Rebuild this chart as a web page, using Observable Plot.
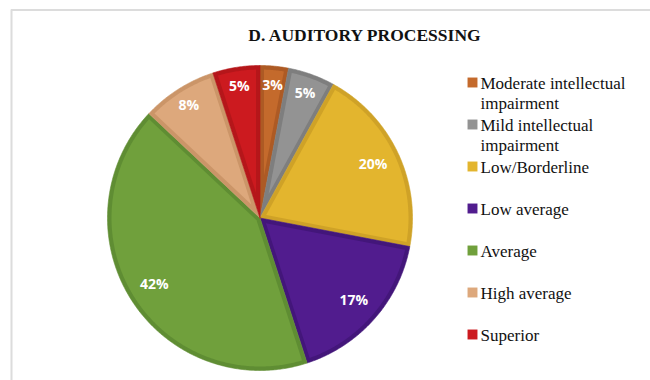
<!DOCTYPE html>
<html><head><meta charset="utf-8">
<script src="https://cdn.jsdelivr.net/npm/d3@7"></script>
<script src="https://cdn.jsdelivr.net/npm/@observablehq/plot@0.6"></script>
<style>body{margin:0;background:#fff}</style>
</head><body><div id="chart"></div>
<script>
const title = "D. AUDITORY PROCESSING";
const categories = ["Moderate intellectual impairment","Mild intellectual impairment","Low/Borderline","Low average","Average","High average","Superior"];
const legendLabels = ["Moderate intellectual\nimpairment","Mild intellectual\nimpairment","Low/Borderline","Low average","Average","High average","Superior"];
const values = [3,5,20,17,42,8,5];
const fills = ["#C46A2C","#939393","#E3B52E","#511C8E","#70A03C","#DDA87C","#CC1A1F"];
const borders = ["#AD5A24","#7E7E7E","#CFA227","#43167A","#5F8D33","#CB9568","#B5161A"];

const W = 650, H = 380;
const cx = 259.5, cy = 217.5, R = 152.5, inset = 4;
const legendX = 472, legendY0 = 82, legendStep = 42, legendLine = 20;

const total = d3.sum(values);
const pt = (a, r) => ({x: cx + r * Math.sin(a), y: cy - r * Math.cos(a)});
let acc = 0;
const slices = values.map((v, i) => {
  const a0 = acc / total * 2 * Math.PI; acc += v;
  const a1 = acc / total * 2 * Math.PI;
  return {i, v, a0, a1, cat: categories[i]};
});
function arcPts(a0, a1, r) {
  const n = Math.max(2, Math.ceil((a1 - a0) / (Math.PI / 360)));
  return d3.range(n + 1).map(k => pt(a0 + (a1 - a0) * k / n, r));
}
function outerPoly(s) { const c = pt(0, 0); return [c, ...arcPts(s.a0, s.a1, R), c]; }
function innerPoly(s) {
  const half = (s.a1 - s.a0) / 2;
  const apex = pt(s.a0 + half, inset / Math.sin(half));
  const da = Math.asin(inset / (R - inset));
  return [apex, ...arcPts(s.a0 + da, s.a1 - da, R - inset), apex];
}

const marks = [
  Plot.ruleY([9.5], {x1: 11, x2: W, stroke: "#dcdcdc", strokeWidth: 2}),
  Plot.ruleX([11], {y1: 9.5, y2: H, stroke: "#dcdcdc", strokeWidth: 2})
];
slices.forEach(s => {
  marks.push(Plot.line(outerPoly(s), {x: "x", y: "y", fill: borders[s.i], stroke: borders[s.i], strokeWidth: 0.6, curve: "linear"}));
  marks.push(Plot.line(innerPoly(s), {x: "x", y: "y", fill: fills[s.i], stroke: "none", curve: "linear"}));
});
const labelPos = s => {
  const mid = (s.a0 + s.a1) / 2;
  const r = s.v >= 10 ? 0.82 * R : 0.87 * R;
  return pt(mid, r);
};
marks.push(Plot.text(slices, {
  x: s => labelPos(s).x, y: s => labelPos(s).y, text: s => `${s.v}%`,
  fill: "white", fontWeight: "bold", fontSize: 14, fontFamily: "Open Sans"
}));
marks.push(Plot.text([title], {
  x: 364, y: 35, text: d => d, fontWeight: "bold", fontSize: 17.5,
  fontFamily: "Liberation Serif", fill: "#111"
}));
marks.push(Plot.dot(categories, {
  x: legendX, y: (d, i) => legendY0 + legendStep * i, symbol: "square", r: 5.6, fill: d => d
}));
marks.push(Plot.text(categories, {
  x: legendX + 8, y: (d, i) => legendY0 + legendStep * i + (legendLabels[i].split("\n").length - 1) * legendLine / 2,
  text: (d, i) => legendLabels[i], textAnchor: "start", lineAnchor: "middle", lineHeight: legendLine / 17,
  fontSize: 17, fontFamily: "Liberation Serif", fill: "#111"
}));

const chart = Plot.plot({
  width: W, height: H, margin: 0,
  x: {domain: [0, W], range: [0, W], axis: null},
  y: {domain: [0, H], range: [0, H], axis: null},
  color: {domain: categories, range: fills},
  style: {background: "white"},
  marks
});
document.getElementById("chart").appendChild(chart);
</script>
</body></html>
